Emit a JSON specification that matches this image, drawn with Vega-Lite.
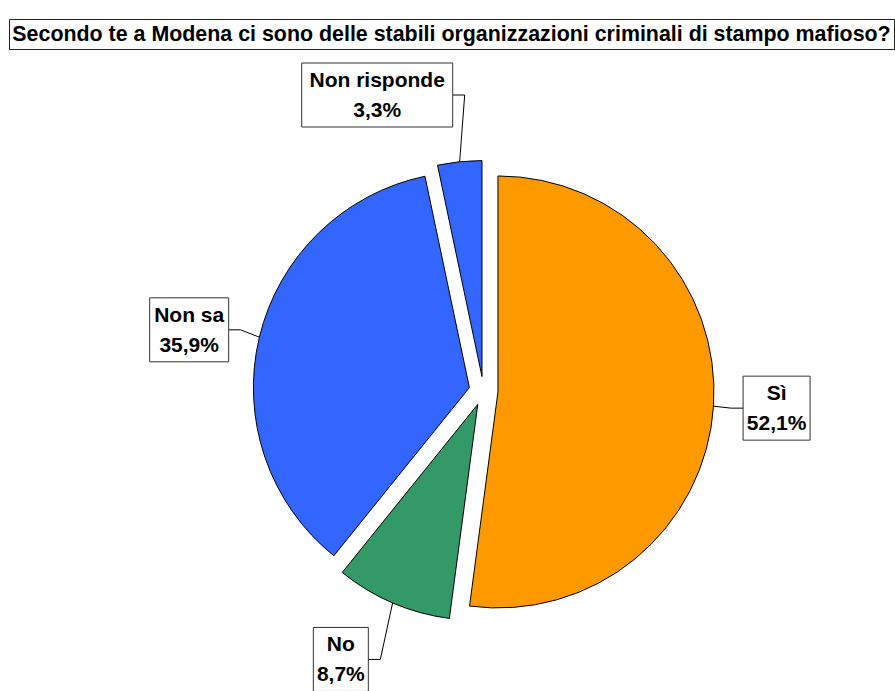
{
  "$schema": "https://vega.github.io/schema/vega-lite/v6.json",
  "padding": {"left": 8, "top": 18, "right": 2, "bottom": 0},
  "background": "white",
  "spacing": 0,
  "config": {"view": {"stroke": null}},
  "vconcat": [
    {
      "width": 885,
      "height": 30,
      "view": {"stroke": "#222", "strokeWidth": 1},
      "data": {"values": [{"t": "Secondo te a Modena ci sono delle stabili organizzazioni criminali di stampo mafioso?"}]},
      "mark": {"type": "text", "font": "Liberation Sans", "fontSize": 21.4, "fontWeight": "bold", "color": "black", "align": "center", "baseline": "middle", "dy": 1},
      "encoding": {"text": {"field": "t", "type": "nominal"}}
    },
    {
      "width": 885,
      "height": 643,
      "data": {"values": [
        {"cat": "Sì", "v": 52.1, "o": 1},
        {"cat": "No", "v": 8.7, "o": 2},
        {"cat": "Non sa", "v": 35.9, "o": 3},
        {"cat": "Non risponde", "v": 3.3, "o": 4}
      ]},
      "transform": [
        {"stack": "v", "groupby": [], "sort": [{"field": "o", "order": "ascending"}], "as": ["s0", "s1"]},
        {"calculate": "(datum.s0+datum.s1)/100*PI", "as": "a"},
        {"calculate": "sin(datum.a)", "as": "sn"},
        {"calculate": "cos(datum.a)", "as": "cs"},
        {"calculate": "datum.sn>=0?1:-1", "as": "side"},
        {"calculate": "14.5*datum.sn", "as": "ex"},
        {"calculate": "14.5*datum.cs", "as": "ey"},
        {"calculate": "datum.ex+216*datum.sn", "as": "px"},
        {"calculate": "datum.ey+216*datum.cs", "as": "py"},
        {"calculate": "260+38*datum.cs*datum.cs", "as": "R"},
        {"calculate": "datum.R*datum.sn", "as": "ax"},
        {"calculate": "datum.R*datum.cs", "as": "ay"},
        {"calculate": "datum.ax-12*datum.side", "as": "bx"},
        {"calculate": "replace(format(datum.v,'.1f'),'.',',')+'%'", "as": "pct"},
        {"calculate": "12*max(length(datum.cat),length(datum.pct))+7", "as": "w"},
        {"calculate": "datum.ax+datum.side*datum.w", "as": "ax2"},
        {"calculate": "datum.ax+datum.side*datum.w/2", "as": "tx"},
        {"calculate": "datum.ay+32", "as": "yt"},
        {"calculate": "datum.ay-32", "as": "yb"},
        {"calculate": "datum.cat+'\\n'+datum.pct", "as": "lbl"}
      ],
      "layer": [
        {
          "mark": {"type": "arc", "outerRadius": 216, "stroke": "black", "strokeWidth": 1},
          "encoding": {
            "x": {"field": "ex", "type": "quantitative", "scale": {"domain": [-474.5, 410.5], "nice": false, "zero": false}, "axis": null},
            "y": {"field": "ey", "type": "quantitative", "scale": {"domain": [-302, 341], "nice": false, "zero": false}, "axis": null},
            "theta": {"field": "s0", "type": "quantitative", "stack": null, "scale": {"domain": [0, 100], "range": [0, 6.283185307179586], "zero": false, "nice": false}},
            "theta2": {"field": "s1"},
            "color": {"field": "cat", "type": "nominal", "legend": null, "scale": {"domain": ["Sì", "No", "Non sa", "Non risponde"], "range": ["#FF9900", "#339966", "#3366FF", "#3366FF"]}}
          }
        },
        {
          "mark": {"type": "rule", "color": "black", "strokeWidth": 1},
          "encoding": {
            "x": {"field": "px", "type": "quantitative"},
            "y": {"field": "py", "type": "quantitative"},
            "x2": {"field": "bx"},
            "y2": {"field": "ay"}
          }
        },
        {
          "mark": {"type": "rule", "color": "black", "strokeWidth": 1},
          "encoding": {
            "x": {"field": "bx", "type": "quantitative"},
            "y": {"field": "ay", "type": "quantitative"},
            "x2": {"field": "ax"},
            "y2": {"field": "ay"}
          }
        },
        {
          "mark": {"type": "rect", "fill": "white", "stroke": "#333", "strokeWidth": 1, "clip": true},
          "encoding": {
            "x": {"field": "ax", "type": "quantitative"},
            "x2": {"field": "ax2"},
            "y": {"field": "yt", "type": "quantitative"},
            "y2": {"field": "yb"}
          }
        },
        {
          "mark": {"type": "text", "font": "Liberation Sans", "fontSize": 21, "fontWeight": "bold", "color": "black", "align": "center", "baseline": "middle", "lineBreak": "\n", "lineHeight": 30, "dy": -14},
          "encoding": {
            "x": {"field": "tx", "type": "quantitative"},
            "y": {"field": "ay", "type": "quantitative"},
            "text": {"field": "lbl", "type": "nominal"}
          }
        }
      ]
    }
  ]
}
